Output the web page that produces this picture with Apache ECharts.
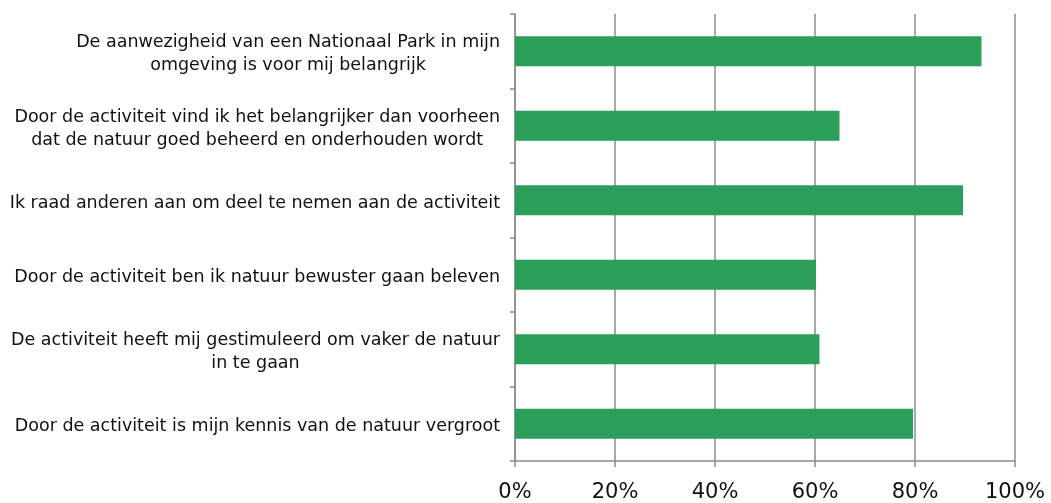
<!DOCTYPE html>
<html>
<head>
<meta charset="utf-8">
<script src="https://cdn.jsdelivr.net/npm/echarts@6/dist/echarts.min.js"></script>
<style>
html,body{margin:0;padding:0;background:#fff;}
#chart{width:1051px;height:503px;}
</style>
</head>
<body>
<div id="chart"></div>
<script>
var categories = [
  "De aanwezigheid van een Nationaal Park in mijn\nomgeving is voor mij belangrijk",
  "Door de activiteit vind ik het belangrijker dan voorheen\ndat de natuur goed beheerd en onderhouden wordt",
  "Ik raad anderen aan om deel te nemen aan de activiteit",
  "Door de activiteit ben ik natuur bewuster gaan beleven",
  "De activiteit heeft mij gestimuleerd om vaker de natuur\nin te gaan",
  "Door de activiteit is mijn kennis van de natuur vergroot"
];
var values = [93.3, 64.9, 89.6, 60.2, 60.9, 79.6];
var xTicks = [0, 20, 40, 60, 80, 100];

var chart = echarts.init(document.getElementById('chart'), null, {renderer: 'canvas'});
var gray = '#8c8c8c';
chart.setOption({
  animation: false,
  grid: {left: 515, right: 36, top: 14, bottom: 40, containLabel: false},
  xAxis: {
    type: 'value', min: xTicks[0], max: xTicks[xTicks.length - 1], interval: 20,
    axisLine: {show: true, lineStyle: {color: gray, width: 1.5}},
    axisTick: {show: true, length: 6, lineStyle: {color: gray, width: 1.5}},
    splitLine: {show: true, lineStyle: {color: gray, width: 1.5}},
    axisLabel: {
      formatter: function (v) { return v + '%'; },
      fontFamily: 'DejaVu Sans', fontSize: 21, color: '#111', margin: 21
    }
  },
  yAxis: {
    type: 'category', data: categories, inverse: true,
    axisLine: {show: true, lineStyle: {color: gray, width: 1.5}},
    axisTick: {show: true, length: 5, lineStyle: {color: gray, width: 1.5}},
    splitLine: {show: false},
    axisLabel: {
      margin: 15,
      padding: [6, 0, 0, 0],
      formatter: function (v) {
        return v.split('\n').map(function (s) { return '{c|' + s + '}'; }).join('\n');
      },
      rich: {
        c: {align: 'center', fontFamily: 'DejaVu Sans', fontSize: 17.5, color: '#111', lineHeight: 23}
      }
    }
  },
  series: [{
    type: 'bar', data: values, barCategoryGap: '60%',
    itemStyle: {color: '#2B9E59'}
  }]
});
</script>
</body>
</html>
